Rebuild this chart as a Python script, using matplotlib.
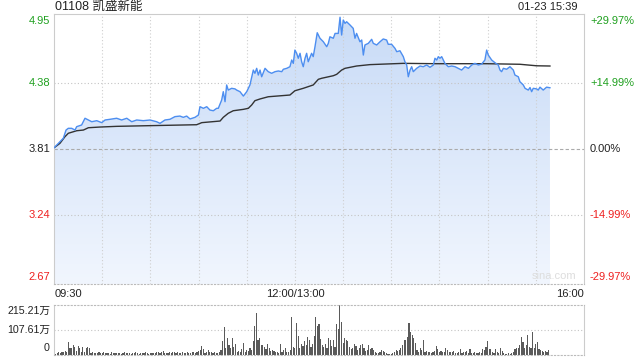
import matplotlib
matplotlib.use('Agg')
import matplotlib.pyplot as plt
import numpy as np
from matplotlib.patches import Polygon
from matplotlib.colors import LinearSegmentedColormap

plt.rcParams['font.family'] = ['Liberation Sans', 'Noto Sans CJK SC', 'DejaVu Sans']

title = "01108 凯盛新能"
stamp = "01-23 15:39"
prev_close = 3.81
price_ticks = [4.95, 4.38, 3.81, 3.24, 2.67]
price_labels = ["4.95", "4.38", "3.81", "3.24", "2.67"]
pct_labels = ["+29.97%", "+14.99%", "0.00%", "-14.99%", "-29.97%"]
time_labels = ["09:30", "12:00/13:00", "16:00"]
time_pos = [0, 150, 330]
vol_ticks = [215.21, 107.61, 0]
vol_labels = ["215.21万", "107.61万", "0"]

# minutes since 09:30 (lunch break removed), price
price_t = [0, 2.7, 5.8, 7.5, 8.9, 11.0, 13.1, 14.1, 17.2, 19.3, 21.4, 23.5, 26.6, 29.7, 31.8, 34.9,
           39.0, 42.1, 45.3, 48.4, 51.5, 55.6, 59.8, 63.9, 66.0, 69.1, 72.2, 75.3, 78.4, 80.5, 82.6,
           84.7, 87.8, 89.9, 90.9, 93.0, 95.1, 97.1, 99.2, 101.3, 102.3, 104.4, 105.4, 106.5, 107.5,
           108.5, 110.6, 112.7, 113.7, 115.8, 117.9, 120.0, 122.0, 124.1, 125.1, 126.2, 127.2, 128.3,
           129.3, 131.4, 133.4, 135.5, 137.6, 139.7, 141.8, 142.8, 144.9, 146.9, 148.0, 149.0, 150.0,
           151.1, 152.1, 153.2, 154.2, 155.2, 156.3, 157.3, 158.3, 160.4, 161.4, 162.5, 163.9, 165.6,
           167.7, 169.8, 170.8, 171.8, 173.9, 175.0, 177.0, 178.1, 179.1, 180.1, 181.2, 182.2, 184.3,
           186.3, 187.4, 188.4, 190.5, 191.6, 192.6, 193.6, 195.7, 197.8, 198.8, 200.9, 203.0, 205.0,
           207.1, 208.1, 210.2, 212.3, 213.4, 215.4, 217.5, 218.5, 219.6, 220.6, 221.7, 222.7, 223.7,
           225.8, 227.9, 229.9, 232.0, 234.1, 236.2, 237.2, 238.3, 239.3, 240.3, 241.4, 242.4, 243.4,
           245.5, 247.6, 249.7, 251.7, 253.8, 255.9, 258.0, 260.1, 262.1, 264.2, 266.3, 268.3, 269.4,
           270.4, 272.5, 274.6, 276.6, 277.7, 278.7, 279.8, 281.8, 283.9, 286.0, 287.0, 289.1, 290.1,
           292.2, 293.3, 295.3, 296.4, 297.4, 298.4, 300.5, 301.5, 302.6, 304.6, 306.7, 308.8]
price_v = [3.82, 3.859, 3.903, 3.974, 3.989, 3.989, 3.974, 4.003, 4.018, 4.076, 4.061, 4.046, 4.055,
           4.038, 4.061, 4.067, 4.076, 4.061, 4.076, 4.046, 4.061, 4.055, 4.061, 4.046, 4.032, 4.061,
           4.067, 4.09, 4.095, 4.084, 4.095, 4.07, 4.084, 4.104, 4.176, 4.162, 4.176, 4.147, 4.141,
           4.162, 4.162, 4.234, 4.306, 4.219, 4.364, 4.32, 4.335, 4.33, 4.32, 4.306, 4.268, 4.306,
           4.364, 4.493, 4.465, 4.508, 4.45, 4.493, 4.435, 4.508, 4.479, 4.465, 4.479, 4.485, 4.479,
           4.50, 4.508, 4.522, 4.58, 4.551, 4.666, 4.638, 4.595, 4.638, 4.565, 4.522, 4.595, 4.638,
           4.565, 4.638, 4.609, 4.695, 4.816, 4.768, 4.738, 4.695, 4.724, 4.781, 4.768, 4.81, 4.81,
           4.95, 4.796, 4.926, 4.897, 4.911, 4.883, 4.854, 4.768, 4.81, 4.738, 4.753, 4.623, 4.71,
           4.724, 4.759, 4.724, 4.71, 4.738, 4.762, 4.753, 4.716, 4.716, 4.681, 4.652, 4.66, 4.609,
           4.565, 4.537, 4.435, 4.493, 4.522, 4.479, 4.508, 4.528, 4.522, 4.537, 4.517, 4.537, 4.595,
           4.58, 4.609, 4.595, 4.609, 4.58, 4.551, 4.522, 4.528, 4.522, 4.508, 4.493, 4.522, 4.508,
           4.537, 4.551, 4.537, 4.545, 4.58, 4.666, 4.623, 4.58, 4.556, 4.537, 4.493, 4.479, 4.508,
           4.5, 4.522, 4.493, 4.45, 4.435, 4.392, 4.364, 4.335, 4.32, 4.342, 4.306, 4.335, 4.33, 4.32,
           4.345, 4.32, 4.345, 4.34]

avg_t = [0, 3.7, 6.8, 8.9, 14.1, 18.3, 21.4, 28.6, 39.0, 59.8, 88.8, 92.0, 103.4, 105.4, 108.5,
         111.6, 117.9, 121.0, 123.1, 125.1, 128.3, 133.4, 146.9, 150.0, 155.2, 161.4, 164.6, 166.7,
         173.9, 176.0, 179.1, 181.2, 188.4, 196.7, 217.5, 238.3, 269.4, 290.1, 300.5, 308.8]
avg_v = [3.82, 3.859, 3.916, 3.946, 3.968, 3.974, 3.994, 4.0, 4.006, 4.012, 4.02, 4.038, 4.052,
         4.084, 4.119, 4.141, 4.153, 4.162, 4.191, 4.228, 4.243, 4.262, 4.277, 4.314, 4.335, 4.364,
         4.413, 4.422, 4.444, 4.456, 4.493, 4.508, 4.528, 4.54, 4.551, 4.548, 4.548, 4.543, 4.53,
         4.528]

# per-minute volume, in 万 shares
volume = [8, 6, 10, 12, 9, 14, 11, 16, 13, 57,
          32, 29, 43, 36, 18, 40, 29, 14, 36, 12,
          32, 33, 29, 10, 12, 8, 10, 7, 11, 9,
          8, 12, 9, 7, 10, 6, 11, 8, 9, 7,
          10, 8, 6, 9, 12, 7, 8, 10, 6, 9,
          7, 11, 8, 6, 10, 9, 7, 12, 8, 6,
          9, 7, 10, 8, 12, 14, 9, 11, 16, 8,
          10, 7, 12, 9, 14, 11, 8, 13, 10, 9,
          12, 8, 10, 14, 9, 7, 11, 15, 10, 12,
          18, 22, 39, 26, 10, 14, 21, 12, 11, 8,
          14, 9, 7, 12, 20, 60, 120, 32, 72, 43,
          30, 72, 36, 46, 14, 18, 11, 25, 50, 14,
          21, 18, 29, 21, 60, 126, 179, 64, 72, 43,
          43, 36, 25, 46, 29, 18, 21, 17, 14, 11,
          9, 46, 14, 20, 29, 14, 12, 21, 165, 36,
          28, 136, 83, 29, 46, 40, 60, 43, 79, 64,
          36, 46, 83, 165, 125, 133, 67, 43, 36, 46,
          30, 72, 64, 40, 64, 36, 133, 110, 215.21, 143,
          50, 72, 64, 62, 36, 25, 32, 46, 40, 21,
          30, 43, 46, 29, 18, 21, 43, 25, 29, 21,
          14, 10, 7, 11, 21, 17, 11, 7, 6, 5,
          5, 8, 11, 21, 17, 21, 29, 43, 64, 64,
          79, 136, 100, 86, 72, 50, 21, 14, 32, 21,
          64, 14, 17, 11, 14, 9, 11, 17, 40, 26,
          11, 17, 14, 11, 29, 21, 11, 14, 11, 17,
          10, 8, 11, 26, 9, 11, 14, 17, 8, 26,
          7, 9, 11, 10, 8, 14, 10, 26, 21, 36,
          60, 26, 26, 14, 10, 26, 11, 8, 29, 17,
          7, 3, 5, 7, 6, 7, 11, 26, 32, 29,
          43, 79, 57, 32, 43, 86, 36, 29, 100, 29,
          46, 57, 26, 21, 17, 14, 17, 12, 21]

GREEN = '#1fa01f'
RED = '#ee2020'
DARK = '#222222'
label_colors = [GREEN, GREEN, DARK, RED, RED]

fig = plt.figure(figsize=(6.4, 3.6), dpi=100)
W, H = 640.0, 360.0
ax = fig.add_axes([54 / W, 1 - 284 / H, 530 / W, 270 / H])
axv = fig.add_axes([54 / W, 1 - 355 / H, 530 / W, 50 / H])

ylo, yhi = 2.642, 4.978
ax.set_xlim(0, 330)
ax.set_ylim(ylo, yhi)

# gradient fill under price line
verts = list(zip(price_t, price_v)) + [(price_t[-1], ylo), (price_t[0], ylo)]
patch = Polygon(verts, closed=True, facecolor='none', edgecolor='none')
ax.add_patch(patch)
cmap = LinearSegmentedColormap.from_list('g', ['#c8dbf7', '#f1f6fe'])
grad = np.linspace(0, 1, 256).reshape(-1, 1)
im = ax.imshow(grad, extent=[0, 330, ylo, max(price_v)], origin='upper', aspect='auto',
               cmap=cmap, zorder=1)
im.set_clip_path(patch)
ax.set_xlim(0, 330)
ax.set_ylim(ylo, yhi)

# grid (drawn over the fill, as in the reference)
for v in [4.38, 3.24]:
    ax.axhline(v, color='#c4c4c4', lw=0.8, ls=(0, (1, 2)), zorder=1.5)
ax.axhline(prev_close, color='#aaaaaa', lw=0.8, ls=(0, (3, 2)), zorder=1.5)
for t in range(30, 330, 30):
    ax.axvline(t, color='#cfcfcf', lw=0.8, ls=(0, (1, 2)), zorder=1.5)

ax.plot(avg_t, avg_v, color='#333333', lw=1.0, zorder=2.5)
ax.plot(price_t, price_v, color='#4d8ef0', lw=1.0, zorder=3)

for s in ['top', 'left', 'right']:
    ax.spines[s].set_color('#cccccc')
    ax.spines[s].set_linewidth(0.8)
ax.spines['bottom'].set_color('#bbbbbb')
ax.spines['bottom'].set_linestyle((0, (1, 2)))
ax.spines['bottom'].set_linewidth(0.8)
ax.set_xticks([])
ax.set_yticks([])

# price and percentage labels
ytr = ax.get_yaxis_transform()
for i, (v, lab, pct, c) in enumerate(zip(price_ticks, price_labels, pct_labels, label_colors)):
    if i == 0:
        yy, va = 1 - 1.5 / 270, 'top'
        tr = ax.transAxes
    elif i == len(price_ticks) - 1:
        yy, va = 1.5 / 270, 'bottom'
        tr = ax.transAxes
    else:
        yy, va = v, 'center'
        tr = ytr
    ax.text(-4 / 530, yy, lab, transform=tr, ha='right', va=va, fontsize=8, color=c)
    ax.text(1 + 6 / 530, yy, pct, transform=tr, ha='left', va=va, fontsize=8, color=c)

fig.text(55 / W, 1 - 7 / H, title, ha='left', va='center', fontsize=9, color=DARK)
fig.text(578 / W, 1 - 7 / H, stamp, ha='right', va='center', fontsize=8, color=DARK)
ax.text(0.985, 0.01, 'sina.com', transform=ax.transAxes, ha='right', va='bottom',
        fontsize=8, color='#dddddd')

# time labels
has = ['left', 'center', 'right']
for t, lab, ha in zip(time_pos, time_labels, has):
    xx = t / 330
    if ha == 'left':
        xx += 1 / 530
    ax.text(xx, -10 / 270, lab, transform=ax.transAxes, ha=ha, va='center', fontsize=8, color=DARK)

# volume panel
axv.bar(np.arange(len(volume)), volume, width=0.7, color='#5a5a5a', zorder=2)
axv.set_xlim(0, 330)
axv.set_ylim(0, vol_ticks[0])
axv.axhline(vol_ticks[1], color='#c4c4c4', lw=0.8, ls=(0, (1, 2)), zorder=0.5)
for s in ['left', 'right']:
    axv.spines[s].set_color('#cccccc')
    axv.spines[s].set_linewidth(0.8)
for s in ['top', 'bottom']:
    axv.spines[s].set_color('#bbbbbb')
    axv.spines[s].set_linestyle((0, (1, 2)))
    axv.spines[s].set_linewidth(0.8)
axv.set_xticks([])
axv.set_yticks([])
vas = ['top', 'center', 'bottom']
vpos = [1 - 1 / 50, 0.5, 2 / 50]
for yy, lab, va in zip(vpos, vol_labels, vas):
    axv.text(-4 / 530, yy, lab, transform=axv.transAxes, ha='right', va=va, fontsize=7.7, color=DARK)

fig.savefig('out.png', dpi=100)
